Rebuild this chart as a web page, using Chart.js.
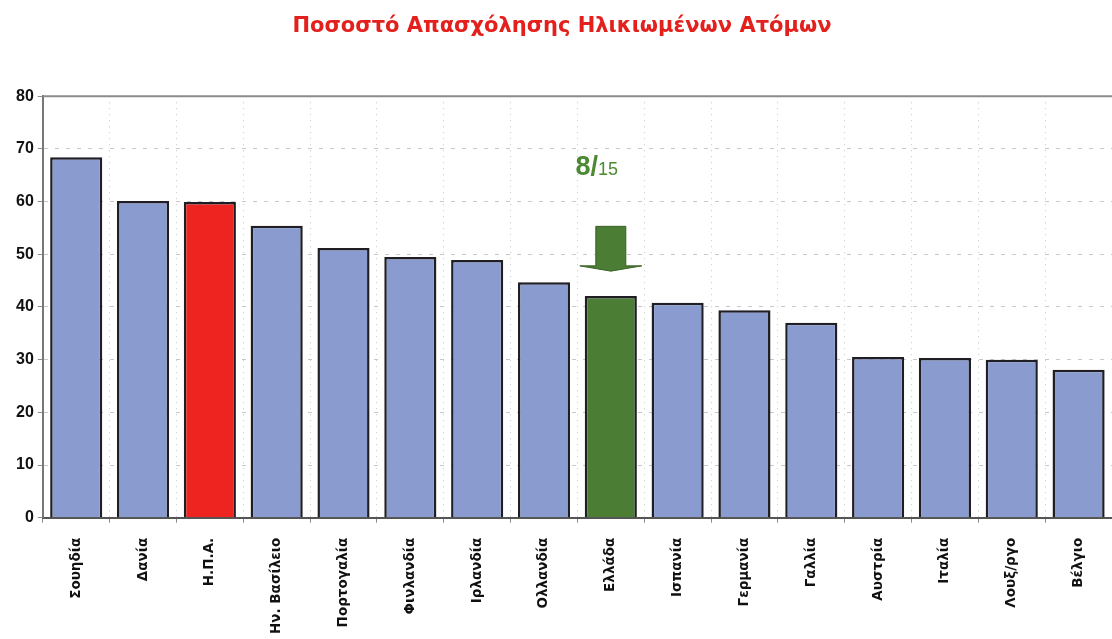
<!DOCTYPE html>
<html>
<head>
<meta charset="utf-8">
<script src="https://cdn.jsdelivr.net/npm/chart.js@4"></script>
<style>
  html, body { margin: 0; padding: 0; background: #fff; }
  #wrap { width: 1112px; height: 639px; }
</style>
</head>
<body>
<div id="wrap"><canvas id="c" width="1112" height="639"></canvas></div>
<script>
var countries = [ "Σουηδία", "Δανία", "Η.Π.Α.", "Ην. Βασίλειο", "Πορτογαλία", "Φινλανδία", "Ιρλανδία", "Ολλανδία",
  "Ελλάδα", "Ισπανία", "Γερμανία", "Γαλλία", "Αυστρία", "Ιταλία", "Λουξ/ργο", "Βέλγιο" ];
var rates = [ 68.4, 60.1, 59.9, 55.4, 51.2, 49.5, 48.9, 44.7, 42.1, 40.8, 39.4, 37.0, 30.5, 30.3, 30.0, 28.1 ];
var yTicks = [ 0, 10, 20, 30, 40, 50, 60, 70, 80 ];
var rank = [ "8/", "15" ];
var highlight = { "Η.Π.Α.": "#ee2420", "Ελλάδα": "#4b7d34" };

var barColors = countries.map((c) => highlight[c] || "#8a9ccf");

// frame top line + green arrow with the rank over Greece
var extras = {
  id: 'extras',
  afterDatasetsDraw: (chart) => {
    var ctx = chart.ctx;
    var a = chart.chartArea;
    ctx.save();
    ctx.strokeStyle = "#8c8c8c";
    ctx.lineWidth = 2;
    ctx.beginPath();
    ctx.moveTo(a.left, a.top);
    ctx.lineTo(a.right, a.top);
    ctx.stroke();

    var x = chart.scales.x.getPixelForValue(countries.indexOf("Ελλάδα"));
    var y = chart.scales.y;
    var top = y.getPixelForValue(55.3), mid = y.getPixelForValue(47.8), tip = y.getPixelForValue(46.8);
    ctx.fillStyle = "#4b7d34";
    ctx.strokeStyle = "#3a6327";
    ctx.lineWidth = 1;
    ctx.beginPath();
    ctx.moveTo(x - 15, top);
    ctx.lineTo(x + 15, top);
    ctx.lineTo(x + 15, mid);
    ctx.lineTo(x + 31, mid);
    ctx.lineTo(x, tip);
    ctx.lineTo(x - 31, mid);
    ctx.lineTo(x - 15, mid);
    ctx.closePath();
    ctx.fill();
    ctx.stroke();

    ctx.fillStyle = "#4b8a32";
    ctx.textBaseline = "alphabetic";
    ctx.font = "bold 27px 'Liberation Sans'";
    var ty = y.getPixelForValue(65.1);
    var w1 = ctx.measureText(rank[0]).width;
    ctx.font = "18px 'Liberation Sans'";
    var w2 = ctx.measureText(rank[1]).width;
    var sx = x - 14 - (w1 + w2) / 2;
    ctx.font = "bold 27px 'Liberation Sans'";
    ctx.fillText(rank[0], sx, ty);
    ctx.font = "18px 'Liberation Sans'";
    ctx.fillText(rank[1], sx + w1, ty);
    ctx.restore();
  }
};

new Chart(document.getElementById('c'), {
  type: 'bar',
  data: {
    labels: countries,
    datasets: [{
      data: rates,
      backgroundColor: barColors,
      borderColor: "#1e1e24",
      borderWidth: 2.5,
      borderSkipped: 'bottom',
      categoryPercentage: 0.78,
      barPercentage: 1
    }]
  },
  options: {
    responsive: false,
    animation: false,
    layout: { padding: { left: 12, right: 0, top: 12, bottom: -10 } },
    plugins: {
      legend: { display: false },
      tooltip: { enabled: false },
      title: {
        display: true,
        text: "Ποσοστό Απασχόλησης Ηλικιωμένων Ατόμων",
        color: "#e3201c",
        font: { family: "'DejaVu Sans'", size: 21, weight: 'bold' },
        padding: { top: 2, bottom: 57 }
      }
    },
    scales: {
      x: {
        grid: {
          offset: true,
          color: "#c8c8c8",
          lineWidth: 1,
          tickLength: 5,
          tickColor: "#8c8c8c"
        },
        border: { color: "#555", width: 2, dash: [1, 5] },
        ticks: {
          color: "#111",
          minRotation: 90,
          maxRotation: 90,
          autoSkip: false,
          padding: 15,
          font: { family: "'DejaVu Sans'", size: 13.5, weight: 'bold' }
        }
      },
      y: {
        min: 0,
        max: 80,
        afterBuildTicks: (axis) => { axis.ticks = yTicks.map((v) => ({ value: v })); },
        grid: {
          color: "#c8c8c8",
          lineWidth: 1,
          tickLength: 5,
          tickColor: "#8c8c8c"
        },
        border: { color: "#777", width: 2, dash: [4, 7] },
        ticks: {
          color: "#111",
          padding: 4,
          font: { family: "'Liberation Sans'", size: 16, weight: 'bold' }
        }
      }
    }
  },
  plugins: [ extras ]
});
</script>
</body>
</html>
